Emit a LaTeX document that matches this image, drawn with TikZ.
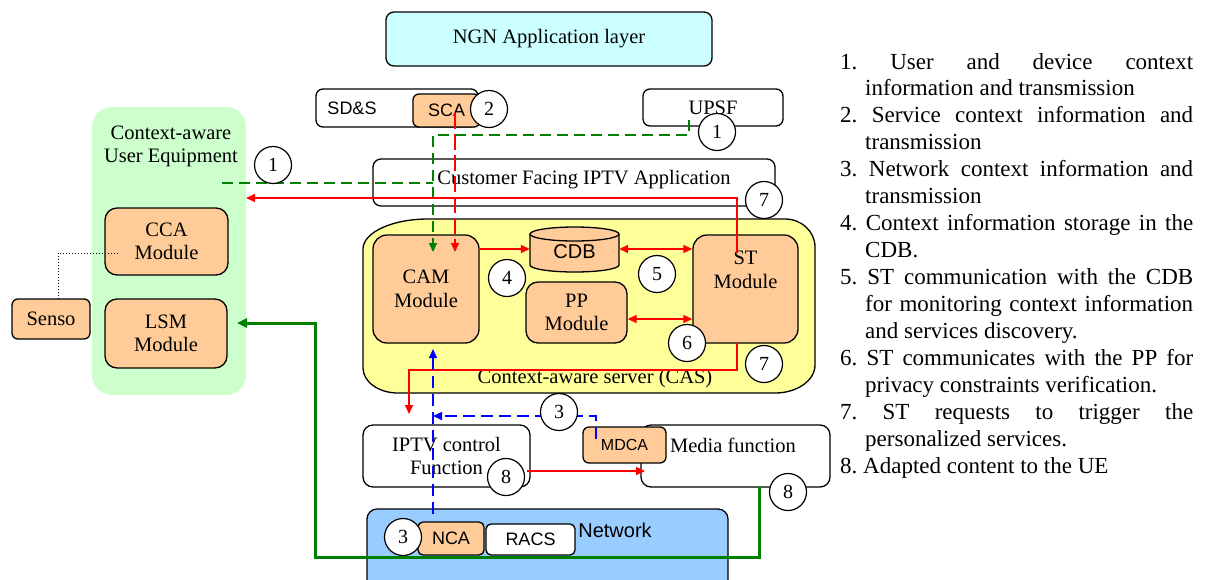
\documentclass[tikz,border=0pt]{standalone}
\usepackage{fontspec}
\setmainfont{Liberation Serif}
\newfontfamily\arialf{Liberation Sans}
\usetikzlibrary{arrows.meta,calc}
\definecolor{peach}{HTML}{FFCC99}
\definecolor{ngncyan}{HTML}{CCFFFF}
\definecolor{uegreen}{HTML}{CCFFCC}
\definecolor{casyellow}{HTML}{FFFF99}
\definecolor{netblue}{HTML}{99CCFF}
\definecolor{dgreen}{HTML}{008000}
\frenchspacing
\tikzset{
 box/.style={draw, fill=white, line width=1.3pt, rounded corners=8pt, inner sep=0pt, align=center},
 modbox/.style={box, fill=peach, rounded corners=14pt},
 num/.style={circle, draw, fill=white, line width=1.2pt, minimum size=37pt, inner sep=0pt, font=\fontsize{20}{22}\selectfont},
 txt/.style={inner sep=0pt, align=center},
 sans/.style={font=\arialf\fontsize{18}{20}\selectfont},
 gdash/.style={draw=dgreen, line width=1.5pt, dash pattern=on 11pt off 6pt},
 rdash/.style={draw=red, line width=1.5pt, dash pattern=on 16pt off 5pt},
 bdash/.style={draw=blue, line width=1.5pt, dash pattern=on 12pt off 6pt},
 rline/.style={draw=red, line width=1.6pt},
 gline/.style={draw=dgreen, line width=3pt},
 tip/.style={-{Triangle[length=9pt,width=8pt]}},
 tips/.style={{Triangle[length=9pt,width=8pt]}-{Triangle[length=9pt,width=8pt]}},
 leg/.style={anchor=base west, inner sep=0pt, font=\fontsize{23}{27}\selectfont},
}
\begin{document}
\begin{tikzpicture}[x=1pt,y=-1pt, font=\fontsize{20.5}{23.5}\selectfont]
\useasboundingbox (0,0) rectangle (1206,579);

% ---------- backgrounds ----------
\node[fill=uegreen, rounded corners=20pt, minimum width=154pt, minimum height=288pt, inner sep=0pt] (ue) at (169,251) {};
\path[fill=casyellow, draw, line width=1.3pt]
  (428,219) -- (785,219)
  arc[start angle=90, end angle=0, x radius=30pt, y radius=28pt] -- (815,365)
  arc[start angle=0, end angle=-90, x radius=40pt, y radius=28pt] -- (398,393)
  arc[start angle=-90, end angle=-180, x radius=35pt, y radius=25pt] -- (363,249)
  arc[start angle=180, end angle=90, x radius=65pt, y radius=30pt] -- cycle;
\node[box, fill=netblue, rounded corners=10pt, minimum width=361pt, minimum height=91pt] (net) at (547.5,554.5) {};

% ---------- top boxes ----------
\node[box, fill=ngncyan, minimum width=326pt, minimum height=54pt] (ngn) at (549,39) {NGN Application layer};
\node[box, rounded corners=7pt, minimum width=162pt, minimum height=38pt] (sds) at (397,108) {};
\node[txt, sans] (sdst) at (352,108) {SD\&S};
\node[box, fill=peach, rounded corners=6pt, minimum width=67pt, minimum height=33pt, sans] (sca) at (446.5,110.5) {SCA};
\node[box, rounded corners=7pt, minimum width=140pt, minimum height=37pt] (upsf) at (713,107.5) {UPSF};
\node[box, minimum width=402pt, minimum height=47pt] (cfia) at (574,182.5) {};
\node[txt] (cfiat) at (584,180) {Customer Facing IPTV Application};

% ---------- UE ----------
\node[txt] (uet) at (171,146.5) {Context-aware\\User Equipment};
\node[modbox, rounded corners=12pt, minimum width=123pt, minimum height=67pt] (cca) at (166.5,241.5) {CCA\\Module};
\node[modbox, rounded corners=12pt, minimum width=122pt, minimum height=69pt] (lsm) at (166,333.5) {LSM\\Module};
\node[modbox, rounded corners=6pt, minimum width=78pt, minimum height=40pt] (senso) at (51,319) {Senso};

% ---------- CAS ----------
\node[modbox, minimum width=106pt, minimum height=108pt] (cam) at (426,289) {CAM\\Module};
\node[inner sep=0pt, minimum width=89pt, minimum height=44pt] (cdb) at (574.5,249) {};
\fill[peach] (530,234) -- (530,265) arc[start angle=180, end angle=360, x radius=44.5pt, y radius=7pt] -- (619,234) -- cycle;
\draw[line width=1.3pt] (530,234) -- (530,265) arc[start angle=180, end angle=360, x radius=44.5pt, y radius=7pt] -- (619,234);
\draw[line width=1.3pt, fill=peach] (574.5,234) ellipse[x radius=44.5pt, y radius=7pt];
\node[txt, font=\arialf\fontsize{20}{22}\selectfont] (cdbt) at (574.5,252) {CDB};
\node[modbox, minimum width=105pt, minimum height=108pt] (st) at (745.5,289) {};
\node[txt] (stt) at (745.5,270) {ST\\Module};
\node[modbox, rounded corners=12pt, minimum width=101pt, minimum height=61pt] (pp) at (576.5,312.5) {PP\\Module};
\node[txt] (cast) at (595,379) {Context-aware server (CAS)};

% ---------- lower boxes ----------
\node[box, rounded corners=10pt, minimum width=167pt, minimum height=62pt] (iptv) at (446.5,456) {IPTV control\\Function};
\node[box, rounded corners=10pt, minimum width=189pt, minimum height=62pt] (media) at (735.5,456) {};
\node[txt] (mediat) at (733,445) {Media function};
\node[box, fill=peach, rounded corners=6pt, minimum width=83pt, minimum height=36pt, font=\arialf\fontsize{16}{18}\selectfont] (mdca) at (624.5,445) {MDCA};
\node[txt, font=\arialf\fontsize{20}{22}\selectfont] (nett) at (615,530) {Network};
\node[box, fill=peach, rounded corners=5pt, minimum width=66pt, minimum height=33pt, sans] (nca) at (451,538.5) {NCA};
\node[box, rounded corners=5pt, minimum width=89pt, minimum height=31pt, sans] (racs) at (530.5,539.5) {RACS};

% ---------- connector points ----------
\coordinate (gA) at (689,120);
\coordinate (gB) at (433,252);
\coordinate (ueOut) at (222,183);
\coordinate (rA) at (455,113);
\coordinate (rB) at (455,252);
\coordinate (stIn) at (737,253);
\coordinate (ueIn) at (246,198);
\coordinate (stOut) at (737,343);
\coordinate (iptvIn) at (409,414);
\coordinate (bA) at (433,514);
\coordinate (bB) at (433,349);
\coordinate (mdcaP) at (596,439);
\coordinate (bC) at (433,416);
\coordinate (rI) at (527,471);
\coordinate (rM) at (645,471);
\coordinate (mediaG) at (759,487);
\coordinate (gLow) at (315,557);
\coordinate (lsmIn) at (237,323);
\coordinate (sensoT) at (58,299);
\coordinate (ccaIn) at (118,253);

% ---------- connectors ----------
\draw[gdash, tip] (gA) -- ++(0,15) -| (gB);
\draw[gdash] (ueOut) -- (ueOut -| gB);
\draw[rdash, tip] (rA) -- (rB);
\draw[rline, tip] (stIn) |- (ueIn);
\draw[rline, tip] (cam.east |- cdb.west) -- (cdb.west);
\draw[rline, tips] (cdb.east) -- (st.west |- cdb.east);
\draw[rline, tips] ([yshift=-6.5pt]pp.east) -- ([yshift=-6.5pt]pp.east -| st.west);
\draw[rline, tip] (stOut) -- ++(0,27) -| (iptvIn);
\draw[bdash, tip] (bA) -- (bB);
\draw[bdash, tip] (mdcaP) |- (bC);
\draw[rline, tip] (rI) -- (rM);
\draw[gline, -{Triangle[length=10pt,width=9pt]}] (mediaG) |- (gLow) |- (lsmIn);
\draw[dotted, line width=1pt] (sensoT) |- (ccaIn);

% ---------- number circles ----------
\node[num] (c2) at (489,109) {2};
\node[num] (c1a) at (717,132) {1};
\node[num] (c1b) at (273,165) {1};
\node[num] (c7a) at (764,200) {7};
\node[num] (c4) at (507,278) {4};
\node[num] (c5) at (657,274) {5};
\node[num] (c6) at (687,343) {6};
\node[num] (c7b) at (764,364) {7};
\node[num] (c3a) at (559,412) {3};
\node[num] (c8a) at (506,477) {8};
\node[num] (c8b) at (788,492) {8};
\node[num] (c3b) at (403,537) {3};

% ---------- legend ----------
\node[leg] (l1) at (840,69.0) {\makebox[353pt][s]{1. User and device context}};
\node[leg] (l2) at (865,95.9) {information and transmission};
\node[leg] (l3) at (840,122.9) {\makebox[353pt][s]{2. Service context information and}};
\node[leg] (l4) at (865,149.8) {transmission};
\node[leg] (l5) at (840,176.7) {\makebox[353pt][s]{3. Network context information and}};
\node[leg] (l6) at (865,203.7) {transmission};
\node[leg] (l7) at (840,230.6) {\makebox[353pt][s]{4. Context information storage in the}};
\node[leg] (l8) at (865,257.5) {CDB.};
\node[leg] (l9) at (840,284.4) {\makebox[353pt][s]{5. ST communication with the CDB}};
\node[leg] (l10) at (865,311.4) {\makebox[328pt][s]{for monitoring context information}};
\node[leg] (l11) at (865,338.3) {and services discovery.};
\node[leg] (l12) at (840,365.2) {\makebox[353pt][s]{6. ST communicates with the PP for}};
\node[leg] (l13) at (865,392.2) {privacy constraints verification.};
\node[leg] (l14) at (840,419.1) {\makebox[353pt][s]{7. ST requests to trigger the}};
\node[leg] (l15) at (865,446.0) {personalized services.};
\node[leg] (l16) at (840,473.0) {8. Adapted content to the UE};
\end{tikzpicture}
\end{document}
